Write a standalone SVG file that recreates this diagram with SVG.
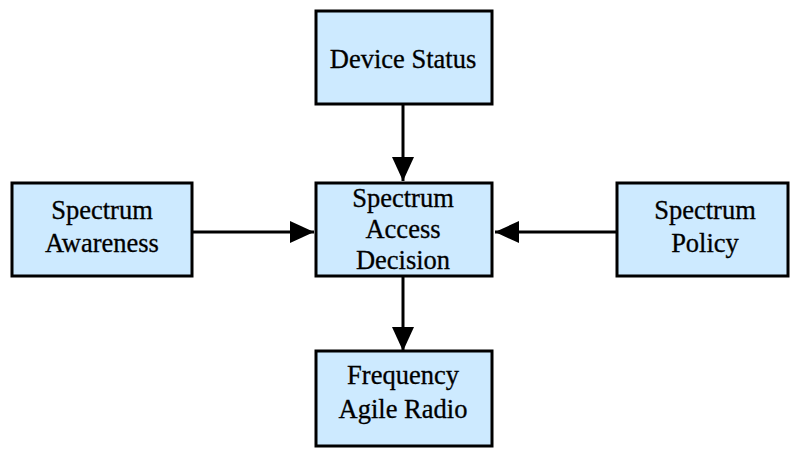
<svg xmlns="http://www.w3.org/2000/svg" width="790" height="450" viewBox="0 0 790 450">
<style>
.box{fill:#cdeaff;stroke:#000;stroke-width:3}
.lbl{font-family:"Liberation Serif","DejaVu Serif",serif;font-size:26.5px;fill:#000;stroke:#000;stroke-width:0.3;text-anchor:middle}
.edge{stroke:#000;stroke-width:3;fill:none;marker-end:url(#arr)}
</style>
<defs>
<marker id="arr" markerUnits="userSpaceOnUse" markerWidth="24" markerHeight="24" viewBox="0 0 24 24" refX="24" refY="12" orient="auto">
<path d="M0,1 L24,12 L0,23 Z" fill="#000"/>
</marker>
</defs>
<rect width="790" height="450" fill="#fff"/>
<g id="connectors">
<line class="edge" x1="403" y1="104" x2="403" y2="181"/>
<line class="edge" x1="193" y1="232" x2="314" y2="232"/>
<line class="edge" x1="616" y1="232" x2="495" y2="232"/>
<line class="edge" x1="403" y1="276" x2="403" y2="351"/>
</g>
<g id="device-status">
<rect class="box" x="316" y="11" width="176" height="93"/>
<text class="lbl" x="403" y="68">Device Status</text>
</g>
<g id="spectrum-access-decision">
<rect class="box" x="316" y="183" width="176" height="93"/>
<text class="lbl" x="403" y="207">Spectrum</text>
<text class="lbl" x="403" y="238">Access</text>
<text class="lbl" x="403" y="269">Decision</text>
</g>
<g id="spectrum-awareness">
<rect class="box" x="12" y="183" width="180" height="93"/>
<text class="lbl" x="102" y="219">Spectrum</text>
<text class="lbl" x="102" y="252">Awareness</text>
</g>
<g id="spectrum-policy">
<rect class="box" x="617" y="183" width="171" height="93"/>
<text class="lbl" x="705" y="219">Spectrum</text>
<text class="lbl" x="705" y="252">Policy</text>
</g>
<g id="frequency-agile-radio">
<rect class="box" x="316" y="351" width="176" height="95"/>
<text class="lbl" x="403" y="384">Frequency</text>
<text class="lbl" x="403" y="418">Agile Radio</text>
</g>
</svg>
